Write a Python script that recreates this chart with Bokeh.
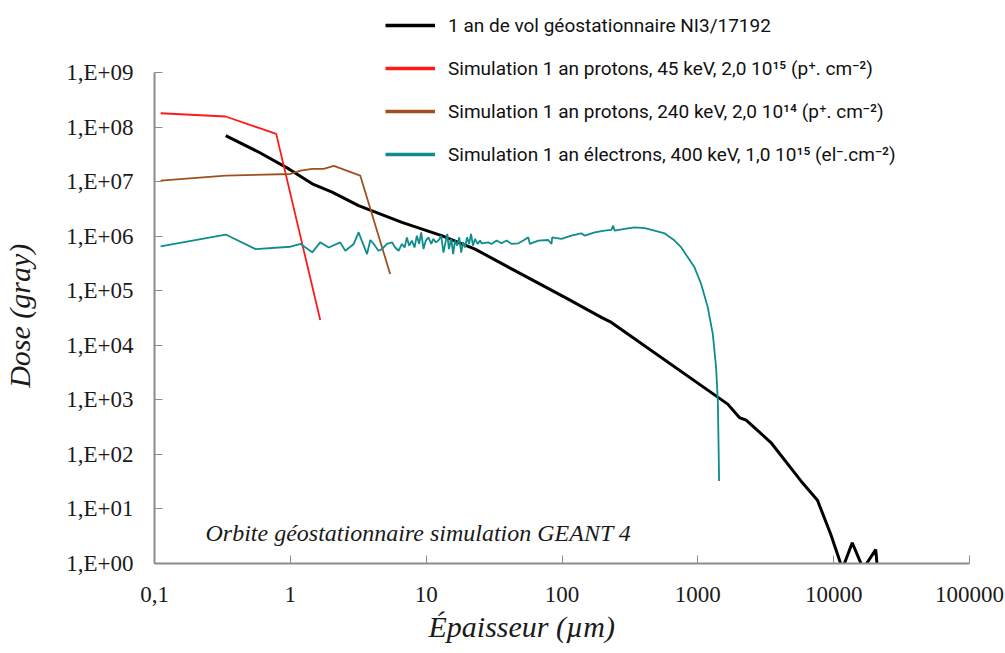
from bokeh.plotting import figure
from bokeh.models import FixedTicker, Legend, LegendItem, Label, Title
from bokeh.embed import file_html
from bokeh.resources import INLINE

# ---- data ----
black_x = [0.334, 0.588, 0.975, 1.45, 2.03, 3.18, 6.63, 13.0, 22.9, 45.0, 111, 195, 231,
           1660, 2023, 2266, 3451, 5740, 7600, 9530, 11600, 13700, 16500, 20400, 21000]
black_y = [6.98e7, 3.45e7, 1.71e7, 9.1e6, 6.4e6, 3.63e6, 1.79e6, 1.02e6, 5.8e5, 2.33e5, 7.0e4, 3.24e4, 2.62e4,
           834, 473, 424, 165, 32.6, 14.4, 3.4, 0.8, 2.4, 0.8, 1.8, 0.8]

red_x = [0.111, 0.334, 0.787, 1.66]
red_y = [1.79e8, 1.56e8, 7.5e7, 2.9e4]

brown_x = [0.111, 0.334, 1.0, 1.19, 1.45, 1.76, 2.09, 3.27, 5.43]
brown_y = [1.04e7, 1.29e7, 1.38e7, 1.59e7, 1.71e7, 1.71e7, 1.94e7, 1.29e7, 2.03e5]

teal_x = [0.111, 0.334, 0.555, 1.0, 1.19, 1.45, 1.66, 1.92, 2.33, 2.54, 2.93, 3.18, 3.67, 3.88, 4.11, 4.46,
          4.73, 5.14, 5.60, 5.92, 6.27, 6.63, 6.94, 7.21, 7.50, 7.85, 8.21, 8.54, 8.88, 9.19, 9.56, 9.94,
          10.4, 10.9, 11.3, 11.8, 12.3, 12.9, 13.4, 13.8, 14.3, 14.7, 15.3, 15.8, 16.3, 16.9, 17.5, 18.1,
          18.7, 19.3, 20.0, 20.7, 21.4, 22.1, 22.9, 24.0, 24.9, 25.6,
          28.7, 30.3, 33.0, 35.9, 39.1, 42.6, 47.7, 51.9, 56.5, 58.0, 66.9, 79.2, 83.7, 84.7, 99.2, 117,
          139, 147, 174, 206, 231, 238, 244, 289, 342, 406, 480, 569, 602, 674, 755, 945, 1058, 1185,
          1289, 1363, 1403, 1417, 1434]
teal_y = [6.5e5, 1.07e6, 5.8e5, 6.4e5, 7.2e5, 5.05e5, 7.7e5, 6.2e5, 7.7e5, 5.4e5, 7.2e5, 1.17e6, 4.7e5, 8.5e5, 7.2e5, 5.4e5,
          5.8e5, 7.2e5, 7.7e5, 6.2e5, 5.4e5, 7.2e5, 6.2e5, 9.5e5, 6.7e5, 8.3e5, 6.2e5, 1.02e6, 7.2e5, 1.17e6, 5.8e5, 8.3e5,
          9.5e5, 7.2e5, 8.9e5, 7.7e5, 8.3e5, 1.02e6, 5.0e5, 7.2e5, 1.10e6, 5.8e5, 8.9e5, 4.7e5, 8.3e5, 6.7e5, 9.5e5, 5.0e5,
          7.7e5, 6.2e5, 9.5e5, 7.2e5, 1.10e6, 6.7e5, 8.9e5, 7.2e5, 8.3e5, 7.4e5,
          7.7e5, 7.2e5, 8.3e5, 7.4e5, 8.3e5, 7.2e5, 7.4e5, 8.3e5, 9.5e5, 7.2e5, 8.3e5, 8.5e5, 7.2e5, 9.5e5, 8.9e5, 1.02e6,
          1.13e6, 1.02e6, 1.17e6, 1.26e6, 1.30e6, 1.56e6, 1.26e6, 1.36e6, 1.45e6, 1.41e6, 1.26e6, 1.13e6, 1.02e6, 8.3e5, 6.2e5, 2.68e5, 1.33e5, 4.9e4,
          1.6e4, 3920, 959, 235, 32.6]

series_names = [
    "1 an de vol géostationnaire NI3/17192",
    "Simulation 1 an protons, 45 keV, 2,0 10¹⁵ (p⁺. cm⁻²)",
    "Simulation 1 an protons, 240 keV, 2,0 10¹⁴ (p⁺. cm⁻²)",
    "Simulation 1 an électrons, 400 keV, 1,0 10¹⁵ (el⁻.cm⁻²)",
]
series_colors = ["#000000", "#ff1a1a", "#a0501e", "#0f8c8c"]
series_x = [black_x, red_x, brown_x, teal_x]
series_y = [black_y, red_y, brown_y, teal_y]
series_widths = [3, 1.8, 1.8, 1.8]

x_ticks = [0.1, 1, 10, 100, 1000, 10000, 100000]
x_tick_labels = ["0,1", "1", "10", "100", "1000", "10000", "100000"]
y_ticks = [1, 10, 100, 1000, 10000, 100000, 1000000, 10000000, 100000000, 1000000000]
y_tick_labels = ["1,E+00", "1,E+01", "1,E+02", "1,E+03", "1,E+04", "1,E+05", "1,E+06", "1,E+07", "1,E+08", "1,E+09"]

x_title = "Épaisseur (µm)"
y_title = "Dose (gray)"
note_text = "Orbite géostationnaire simulation GEANT 4"

# ---- layout geometry (pixels) ----
W, H = 1005, 653
frame_left, frame_right, frame_bottom = 152, 969, 563
y_top_px = 72                      # where 1,E+09 sits
decade_px = (frame_bottom - y_top_px) / 9.0
y_end = 10 ** (frame_bottom / decade_px)   # frame reaches to the canvas top (room for the legend)

p = figure(width=W, height=H, x_axis_type="log", y_axis_type="log",
           x_range=(0.1, 100000), y_range=(1, y_end),
           output_backend="svg", toolbar_location=None,
           min_border_left=frame_left, min_border_right=W - frame_right,
           min_border_top=0, min_border_bottom=H - frame_bottom)
p.grid.visible = False
p.outline_line_color = None
p.background_fill_color = "white"

axis_grey = "#8c8c8c"
for ax in (p.xaxis[0], p.yaxis[0]):
    ax.axis_line_color = axis_grey
    ax.axis_line_width = 2
    ax.major_tick_line_color = axis_grey
    ax.major_tick_line_width = 1
    ax.major_tick_in = 8
    ax.major_tick_out = 0
    ax.minor_tick_line_color = None
    ax.major_label_text_font = "Liberation Serif"
    ax.major_label_text_font_size = "23px"
    ax.major_label_text_color = "#1a1a1a"

p.xaxis.ticker = FixedTicker(ticks=x_ticks)
p.xaxis.major_label_overrides = {t: l for t, l in zip(x_ticks, x_tick_labels)}
p.xaxis.major_label_standoff = 23
p.yaxis.ticker = FixedTicker(ticks=y_ticks)
p.yaxis.major_label_overrides = {t: l for t, l in zip(y_ticks, y_tick_labels)}
p.yaxis.major_label_standoff = 21
p.yaxis.bounds = (y_ticks[0], y_ticks[-1])

# y title: trailing no-break spaces move the visible words down to where the reference has them
p.yaxis.axis_label = y_title + "\u00a0" * 9
p.yaxis.axis_label_text_font = "Liberation Serif"
p.yaxis.axis_label_text_font_style = "italic"
p.yaxis.axis_label_text_font_size = "30px"
p.yaxis.axis_label_text_color = "#1a1a1a"
p.yaxis.axis_label_standoff = 27

p.add_layout(Title(text=x_title, align="left", offset=274, vertical_align="bottom", standoff=6,
                   text_font="Liberation Serif", text_font_style="italic",
                   text_font_size="30px", text_color="#1a1a1a"), "below")

renderers = []
legend_renderers = []
for xs, ys, c, w in zip(series_x, series_y, series_colors, series_widths):
    renderers.append(p.line(xs, ys, line_color=c, line_width=w))
    # hidden twin with the thicker stroke the reference uses for its legend keys
    legend_renderers.append(p.line(xs, ys, line_color=c, line_width=3.5, visible=False))

legend = Legend(items=[LegendItem(label=n, renderers=[r]) for n, r in zip(series_names, legend_renderers)],
                location=(231, 396), orientation="vertical",
                glyph_width=50, glyph_height=26, label_height=26, label_standoff=13,
                spacing=17, padding=0, margin=0,
                background_fill_alpha=0, border_line_color=None,
                label_text_font="Roboto", label_text_font_size="19px",
                label_text_color="#111111")
p.add_layout(legend)

p.add_layout(Label(x=51, y=frame_bottom - 532, x_units="screen", y_units="screen", text=note_text,
                   text_font="Liberation Serif", text_font_style="italic",
                   text_font_size="24px", text_baseline="middle", text_color="#1a1a1a"))

open("out.html", "w").write(file_html(p, INLINE))
